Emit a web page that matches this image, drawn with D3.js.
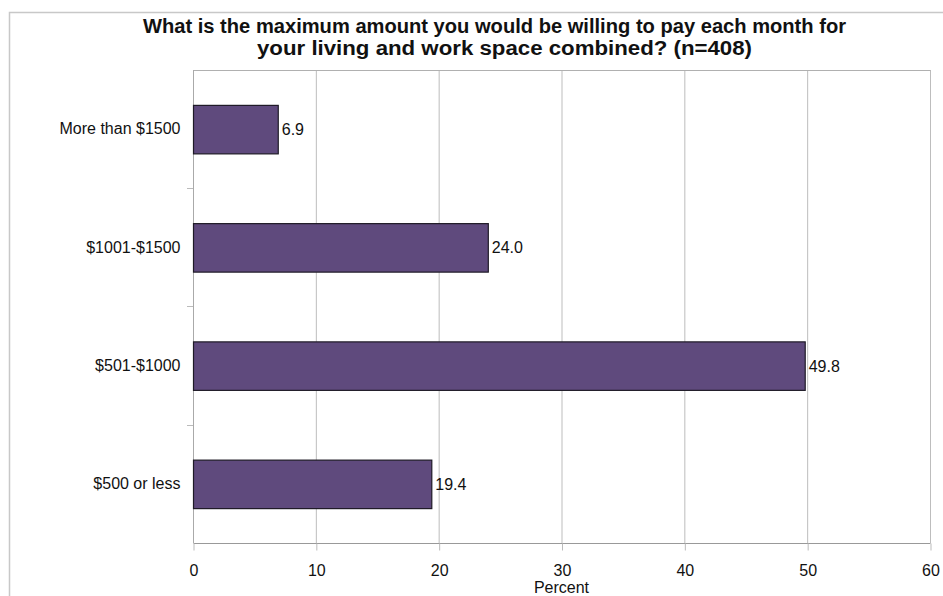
<!DOCTYPE html>
<html><head><meta charset="utf-8">
<script src="https://cdn.jsdelivr.net/npm/d3@7"></script>
<style>body{margin:0;background:#fff}svg{display:block}text{font-family:"Liberation Sans",Arial,sans-serif}</style>
</head><body>
<svg id="c" width="943" height="596"></svg>
<script>
const categories = ["More than $1500", "$1001-$1500", "$501-$1000", "$500 or less"];
const values = [6.9, 24.0, 49.8, 19.4];
const xTicks = [0, 10, 20, 30, 40, 50, 60];
const titleLines = ["What is the maximum amount you would be willing to pay each month for", "your living and work space combined? (n=408)"];
const xLabel = "Percent";

const svg = d3.select("#c");
const m = {left: 193, right: 930, top: 70, bottom: 543};
const FS = 16;

// outer frame
svg.append("path").attr("d", `M9.5,${m.bottom+60} V12.5 H950`)
  .attr("fill","none").attr("stroke","#c8c8c8").attr("stroke-width",1.5);

const x = d3.scaleLinear().domain([0,60]).range([m.left, m.right]);
const y = d3.scaleBand().domain(categories).range([m.top, m.bottom]).paddingInner(0.59).paddingOuter(0.295);

// gridlines
svg.append("g").selectAll("line").data(xTicks.slice(1)).join("line")
  .attr("x1", d=>x(d)+0.5).attr("x2", d=>x(d)+0.5).attr("y1", m.top).attr("y2", m.bottom)
  .attr("stroke","#bdbdbd").attr("stroke-width",1);
svg.append("line").attr("x1",m.left).attr("x2",m.right+0.5).attr("y1",m.top+0.5).attr("y2",m.top+0.5)
  .attr("stroke","#b0b0b0");

// x axis
const xAxis = svg.append("g").attr("transform",`translate(0.5,${m.bottom+0.5})`)
  .call(d3.axisBottom(x).tickValues(xTicks).tickSize(7).tickPadding(14).tickFormat(d3.format("d")));
xAxis.select(".domain").attr("stroke","#999").attr("d",`M${m.left},0H${m.right}`);
xAxis.selectAll(".tick line").attr("stroke","#bbb");
xAxis.selectAll("text").attr("font-size",FS).attr("fill","#111").attr("font-family","Liberation Sans, Arial, sans-serif");

// y axis
const yAxis = svg.append("g").attr("transform",`translate(${m.left+0.5},0)`)
  .call(d3.axisLeft(y).tickSize(0).tickPadding(13));
yAxis.select(".domain").attr("stroke","#aaa").attr("d",`M0,${m.top}V${m.bottom}`);
yAxis.selectAll("text").attr("font-size",FS).attr("fill","#111").attr("font-family","Liberation Sans, Arial, sans-serif");
const bounds = categories.slice(1).map(c => y(c) - y.step()*y.paddingInner()/2);
svg.append("g").selectAll("line").data(bounds).join("line")
  .attr("x1", m.left-6).attr("x2", m.left).attr("y1", d=>Math.round(d)+0.5).attr("y2", d=>Math.round(d)+0.5)
  .attr("stroke","#bbb");

// bars
svg.append("g").selectAll("rect").data(values).join("rect")
  .attr("x", x(0)+0.5).attr("y", (d,i)=>y(categories[i])+0.5)
  .attr("width", d=>x(d)-x(0)).attr("height", y.bandwidth())
  .attr("fill","#5f4a7d").attr("stroke","#1e1a26").attr("stroke-width",1.2);

// value labels
svg.append("g").selectAll("text").data(values).join("text")
  .attr("x", d=>x(d)+4).attr("y",(d,i)=>y(categories[i])+y.bandwidth()/2+6)
  .attr("font-size",FS).attr("fill","#111").text(d=>d.toFixed(1));

// title
svg.append("text").attr("x",143).attr("y",33).attr("textLength",703).attr("lengthAdjust","spacingAndGlyphs")
  .attr("font-size",20).attr("font-weight","bold").attr("fill","#111").text(titleLines[0]);
svg.append("text").attr("x",257).attr("y",55).attr("textLength",495).attr("lengthAdjust","spacingAndGlyphs")
  .attr("font-size",20).attr("font-weight","bold").attr("fill","#111").text(titleLines[1]);

// x label
svg.append("text").attr("x",(m.left+m.right)/2).attr("y",593).attr("text-anchor","middle")
  .attr("font-size",FS).attr("fill","#111").text(xLabel);
</script>
</body></html>
